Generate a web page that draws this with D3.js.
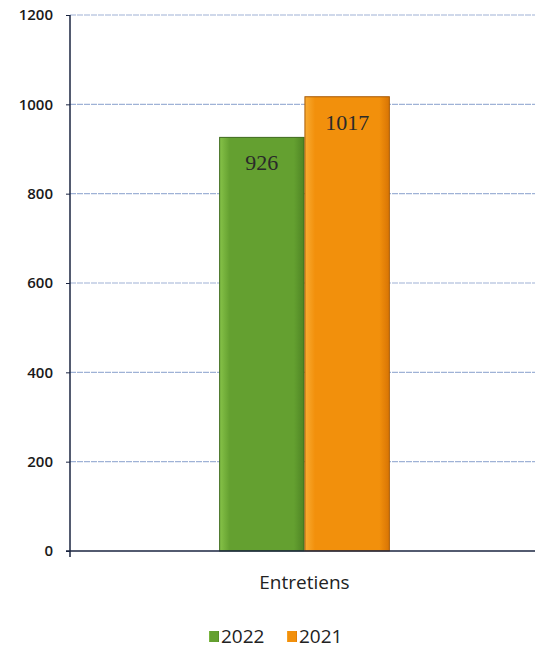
<!DOCTYPE html>
<html><head><meta charset="utf-8">
<script src="https://cdn.jsdelivr.net/npm/d3@7"></script>
<style>body{margin:0;background:#fff;}svg{display:block;}</style>
</head><body>
<script>
const categories = ["Entretiens"];
const seriesNames = ["2022", "2021"];
const values2022 = [926];
const values2021 = [1017];
const yTicks = [0, 200, 400, 600, 800, 1000, 1200];

const W = 535, H = 648;
const svg = d3.select("body").append("svg").attr("width", W).attr("height", H);
const defs = svg.append("defs");
const gradDefs = [["g0","#86c248","#64a030","#4e8424"],["g1","#f8ac34","#f2900c","#d87404"]];
gradDefs.forEach(([id,a,b,c])=>{
  const g = defs.append("linearGradient").attr("id",id).attr("x1","0").attr("x2","1").attr("y1","0").attr("y2","0");
  g.append("stop").attr("offset","0").attr("stop-color",a);
  g.append("stop").attr("offset","0.12").attr("stop-color",b);
  g.append("stop").attr("offset","0.88").attr("stop-color",b);
  g.append("stop").attr("offset","1").attr("stop-color",c);
});

const mLeft = 70, mRight = 535, mTop = 15, mBottom = 551;
const y = d3.scaleLinear().domain([0,1200]).range([mBottom, mTop]);
const x0 = d3.scaleBand().domain(categories).range([mLeft, mRight + 4]).paddingInner(0).paddingOuter(0.868);
const x1 = d3.scaleBand().domain(seriesNames).range([0, x0.bandwidth()]).padding(0.01);

// gridlines
svg.append("g").selectAll("line").data(yTicks.filter(d=>d>0)).join("line")
  .attr("x1", mLeft).attr("x2", mRight).attr("y1", d=>y(d)).attr("y2", d=>y(d))
  .attr("stroke", "#9fb2d6").attr("stroke-width", 1.2).attr("stroke-dasharray","6,1");

// y axis
const yAxis = d3.axisLeft(y).tickValues(yTicks).tickSize(4).tickPadding(13).tickFormat(d3.format("d"));
const ga = svg.append("g").attr("transform", `translate(${mLeft},0)`).call(yAxis);
ga.select(".domain").attr("stroke", "#1a2440").attr("stroke-width", 1.5).attr("d", `M0,${mTop}V${mBottom+6}`);
ga.selectAll(".tick line").attr("stroke","#1a2440");
ga.selectAll("text").attr("font-family","Open Sans, sans-serif").attr("font-size",15).attr("font-weight","600").attr("fill","#1a1a1a");

// bars
const data = categories.map((c,i)=>({cat:c, vals:[{s:"2022",v:values2022[i]},{s:"2021",v:values2021[i]}]}));
const gb = svg.append("g");
data.forEach(d=>{
  d.vals.forEach((e,j)=>{
    const bx = x0(d.cat)+x1(e.s);
    gb.append("rect").attr("x", bx).attr("y", y(e.v)).attr("width", x1.bandwidth()).attr("height", y(0)-y(e.v))
      .attr("fill", `url(#g${j})`).attr("stroke", j===0?"#3d6a1c":"#a85a04").attr("stroke-width",1);
    gb.append("text").attr("x", bx + x1.bandwidth()/2).attr("y", y(e.v)+33).attr("text-anchor","middle")
      .attr("font-family","Liberation Serif, DejaVu Serif, serif").attr("font-size",22).attr("fill","#2a2a2a").text(e.v);
  });
});

// x axis line
svg.append("line").attr("x1", mLeft-4).attr("x2", mRight).attr("y1", mBottom).attr("y2", mBottom)
  .attr("stroke","#1a2440").attr("stroke-width",1.5);

// category label
svg.selectAll(".cat").data(categories).join("text").attr("class","cat")
  .attr("x", d=>x0(d)+x0.bandwidth()/2).attr("y", 589).attr("text-anchor","middle")
  .attr("font-family","Open Sans, sans-serif").attr("font-size",19).attr("fill","#222").text(d=>d);

// legend
const lg = svg.append("g");
const legX = [209, 287];
seriesNames.forEach((s,i)=>{
  lg.append("rect").attr("x", legX[i]).attr("y", 631).attr("width", 10).attr("height", 11).attr("fill", `url(#g${i})`);
  lg.append("text").attr("x", legX[i]+12).attr("y", 643).attr("font-family","Open Sans, sans-serif")
    .attr("font-size",19).attr("fill","#222").text(s);
});
</script>
</body></html>
